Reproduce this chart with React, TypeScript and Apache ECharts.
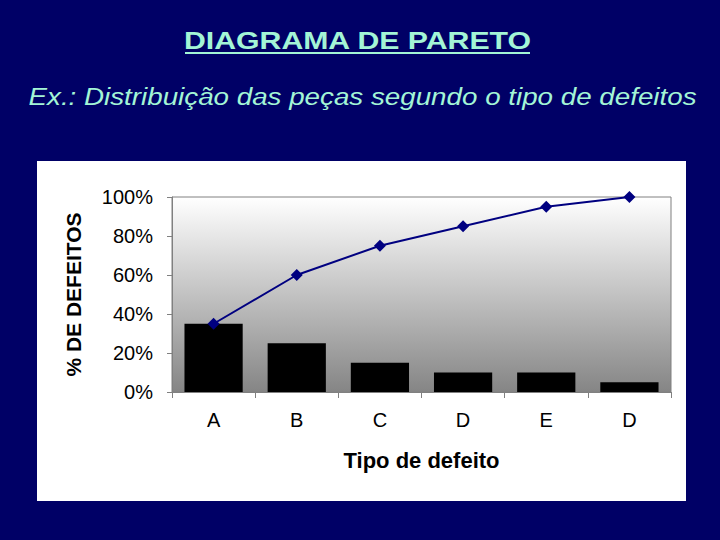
import React, { useEffect, useRef } from "react";
import * as echarts from "echarts";

const categories = ["A", "B", "C", "D", "E", "D"];
const defectShare = [0.35, 0.25, 0.15, 0.1, 0.1, 0.05];
const cumulativeShare = [0.35, 0.6, 0.75, 0.85, 0.95, 1.0];
const yTicks = { min: 0, max: 1, interval: 0.2 };

const titleText = "DIAGRAMA DE PARETO";
const subtitleText = "Ex.: Distribuição das peças segundo o tipo de defeitos";
const yAxisName = "% DE DEFEITOS";
const xAxisName = "Tipo de defeito";

const FONT = "'Liberation Sans', Arial, sans-serif";
const MINT = "#a3f5d6";

export default function App() {
  const ref = useRef<HTMLDivElement>(null);

  useEffect(() => {
    document.body.style.margin = "0";
    if (!ref.current) return;
    const chart = echarts.init(ref.current, undefined, { renderer: "svg" });
    chart.setOption({
      animation: false,
      backgroundColor: "#000066",
      graphic: [
        {
          type: "rect",
          z: -10,
          shape: { x: 37, y: 161, width: 649, height: 340 },
          style: { fill: "#ffffff" },
          silent: true,
        },
        {
          type: "text",
          x: 357.5,
          y: 40.5,
          scaleX: 1.26,
          style: {
            text: titleText,
            font: `bold 24px ${FONT}`,
            fill: MINT,
            textAlign: "center",
            textVerticalAlign: "middle",
          },
        },
        {
          type: "line",
          shape: { x1: 185, y1: 53, x2: 530, y2: 53 },
          style: { stroke: MINT, lineWidth: 2 },
        },
        {
          type: "text",
          x: 362.5,
          y: 96.5,
          scaleX: 1.157,
          style: {
            text: subtitleText,
            font: `italic 24px ${FONT}`,
            fill: MINT,
            textAlign: "center",
            textVerticalAlign: "middle",
          },
        },
      ],
      grid: {
        left: 172,
        top: 197,
        width: 499,
        height: 195,
        show: true,
        borderColor: "#808080",
        borderWidth: 1,
        backgroundColor: {
          type: "linear",
          x: 0,
          y: 0,
          x2: 0,
          y2: 1,
          colorStops: [
            { offset: 0, color: "#ffffff" },
            { offset: 1, color: "#858585" },
          ],
        },
      },
      xAxis: {
        type: "category",
        data: categories,
        name: xAxisName,
        nameLocation: "middle",
        nameGap: 57,
        nameTextStyle: {
          fontFamily: FONT,
          fontSize: 22,
          fontWeight: "bold",
          color: "#000000",
        },
        axisLine: { show: true, lineStyle: { color: "#808080", width: 1 } },
        axisTick: { show: true, length: 6, lineStyle: { color: "#808080" } },
        axisLabel: {
          fontFamily: FONT,
          fontSize: 20,
          color: "#000000",
          margin: 18,
        },
      },
      yAxis: {
        type: "value",
        min: yTicks.min,
        max: yTicks.max,
        interval: yTicks.interval,
        name: yAxisName,
        nameLocation: "middle",
        nameGap: 88,
        nameTextStyle: {
          fontFamily: FONT,
          fontSize: 21,
          fontWeight: "bold",
          color: "#000000",
        },
        splitLine: { show: false },
        axisLine: { show: true, lineStyle: { color: "#808080", width: 1 } },
        axisTick: { show: true, length: 5, lineStyle: { color: "#808080" } },
        axisLabel: {
          fontFamily: FONT,
          fontSize: 20,
          color: "#000000",
          margin: 19,
          formatter: (v: number) => `${Math.round(v * 100)}%`,
        },
      },
      series: [
        {
          type: "bar",
          data: defectShare,
          barCategoryGap: "30%",
          itemStyle: { color: "#000000" },
          silent: true,
        },
        {
          type: "line",
          data: cumulativeShare,
          symbol: "diamond",
          symbolSize: 12,
          clip: false,
          lineStyle: { color: "#000080", width: 2 },
          itemStyle: { color: "#000080" },
          silent: true,
          z: 5,
        },
      ],
    });
    return () => chart.dispose();
  }, []);

  return <div ref={ref} style={{ width: 720, height: 540 }} />;
}
